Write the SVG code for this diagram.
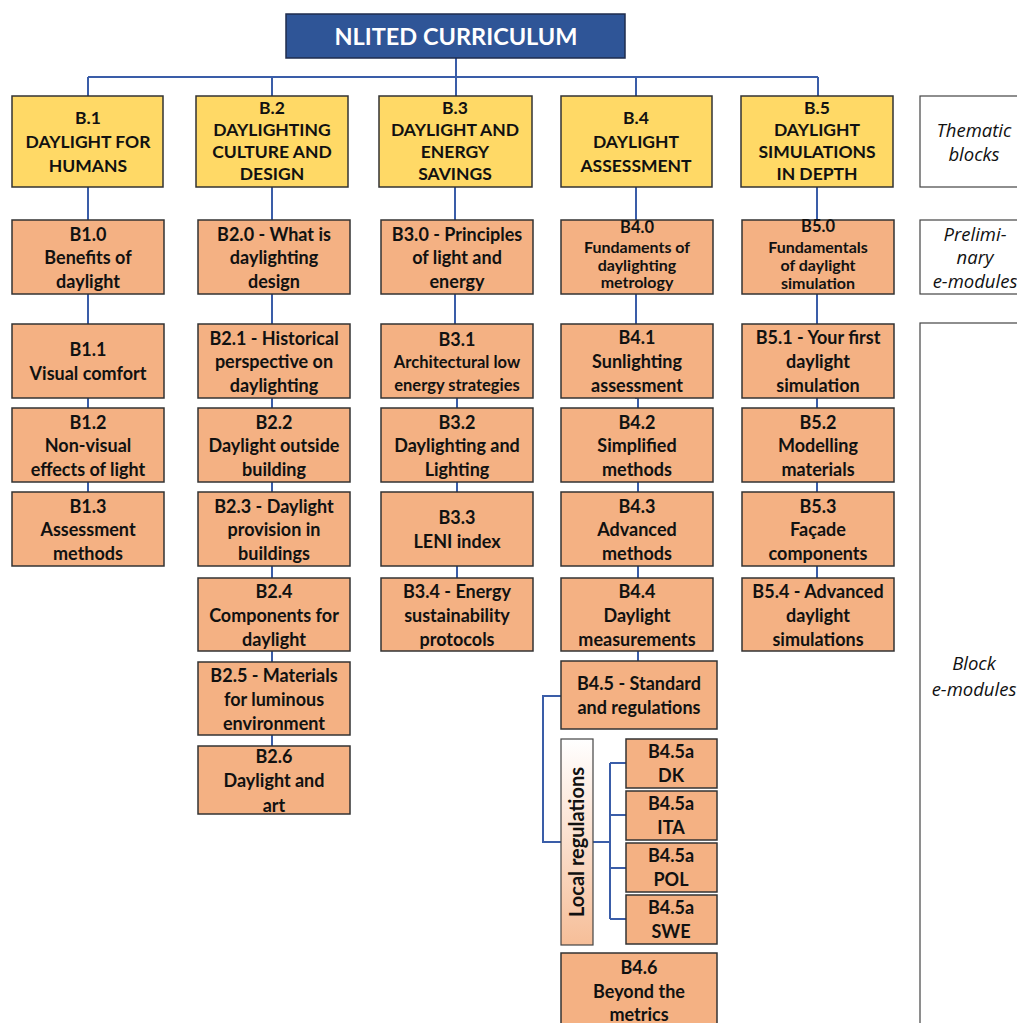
<svg xmlns="http://www.w3.org/2000/svg" width="1017" height="1023" viewBox="0 0 1017 1023">
<style>
.bg{fill:#ffffff}
.title{fill:#2F5597;stroke:#1f2d4d;stroke-width:1.5}
.tt{fill:#ffffff;font-family:Lato,"Liberation Sans",sans-serif;font-weight:bold;font-size:23.5px;text-anchor:middle}
.yb{fill:#FFD966;stroke:#333333;stroke-width:1.5}
.pb{fill:#F4B183;stroke:#333333;stroke-width:1.5}
.lb{fill:#ffffff;stroke:#444444;stroke-width:1.2}
.yt{fill:#111111;font-family:Lato,"Liberation Sans",sans-serif;font-weight:bold;font-size:17.5px;text-anchor:middle}
.pt{fill:#111111;font-family:Lato,"Liberation Sans",sans-serif;font-weight:bold;font-size:18px;text-anchor:middle}
.ph{fill:#111111;font-family:Lato,"Liberation Sans",sans-serif;font-weight:bold;font-size:16.5px;text-anchor:middle}
.ps{fill:#111111;font-family:Lato,"Liberation Sans",sans-serif;font-weight:bold;font-size:16.5px;text-anchor:middle}
.pss{fill:#111111;font-family:Lato,"Liberation Sans",sans-serif;font-weight:bold;font-size:16px;text-anchor:middle}
.lr{fill:#111111;font-family:Lato,"Liberation Sans",sans-serif;font-weight:bold;font-size:20px;text-anchor:middle}
.it{fill:#111111;font-family:"Open Sans","Liberation Sans",sans-serif;font-style:italic;font-size:18.5px;text-anchor:middle}
.con{fill:none;stroke:#3A5DA8;stroke-width:2}
</style>
<defs>
<linearGradient id="lg" x1="0" y1="0" x2="0" y2="1">
<stop offset="0" stop-color="#FFFFFF"/>
<stop offset="1" stop-color="#F6BE98"/>
</linearGradient>
</defs>
<rect class="bg" x="0" y="0" width="1017" height="1023"/>

<g id="connectors">
<path class="con" d="M456 58 V77 M88 77 H818 M88 77 V96 M272 77 V96 M456 77 V96 M636 77 V96 M818 77 V96"/>
<path class="con" d="M88 187 V492"/>
<path class="con" d="M272 187 V746"/>
<path class="con" d="M455 187 V324 M457 398 V578"/>
<path class="con" d="M636 187 V398 H638 V408 M638 482 V661"/>
<path class="con" d="M817 187 V578"/>
<path class="con" d="M561 696 H543 V842 H561 M593 842 H610 M610 763 V919 M610 763 H626 M610 815 H626 M610 868 H626 M610 919 H626"/>
</g>

<g id="title"><rect class="title" x="286" y="14" width="339" height="44"/><text class="tt" x="456" y="45">NLITED CURRICULUM</text></g>

<g id="B1"><rect class="yb" x="12" y="96" width="151" height="91"/><text class="yt" x="88" y="124">B.1</text><text class="yt" x="88" y="148">DAYLIGHT FOR</text><text class="yt" x="88" y="172">HUMANS</text></g>
<g id="B2"><rect class="yb" x="196" y="96" width="152" height="91"/><text class="yt" x="272" y="114">B.2</text><text class="yt" x="272" y="136">DAYLIGHTING</text><text class="yt" x="272" y="158">CULTURE AND</text><text class="yt" x="272" y="180">DESIGN</text></g>
<g id="B3"><rect class="yb" x="379" y="96" width="153" height="91"/><text class="yt" x="455" y="114">B.3</text><text class="yt" x="455" y="136">DAYLIGHT AND</text><text class="yt" x="455" y="158">ENERGY</text><text class="yt" x="455" y="180">SAVINGS</text></g>
<g id="B4"><rect class="yb" x="561" y="96" width="151" height="91"/><text class="yt" x="636" y="124">B.4</text><text class="yt" x="636" y="148">DAYLIGHT</text><text class="yt" x="636" y="172">ASSESSMENT</text></g>
<g id="B5"><rect class="yb" x="741" y="96" width="152" height="91"/><text class="yt" x="817" y="114">B.5</text><text class="yt" x="817" y="136">DAYLIGHT</text><text class="yt" x="817" y="158">SIMULATIONS</text><text class="yt" x="817" y="180">IN DEPTH</text></g>

<g id="lab-thematic"><rect class="lb" x="920" y="96" width="110" height="91"/><text class="it" x="974" y="137">Thematic</text><text class="it" x="974" y="161">blocks</text></g>
<g id="lab-prelim"><rect class="lb" x="920" y="220" width="110" height="74"/><text class="it" x="975" y="241">Prelimi-</text><text class="it" x="975" y="264">nary</text><text class="it" x="975" y="288">e-modules</text></g>
<g id="lab-block"><rect class="lb" x="920" y="323" width="110" height="710"/><text class="it" x="974" y="670">Block</text><text class="it" x="974" y="696">e-modules</text></g>

<g id="B1.0"><rect class="pb" x="12" y="220" width="152" height="74"/><text class="pt" x="88" y="241">B1.0</text><text class="pt" x="88" y="264">Benefits of</text><text class="pt" x="88" y="288">daylight</text></g>
<g id="B1.1"><rect class="pb" x="12" y="324" width="152" height="74"/><text class="pt" x="88" y="356">B1.1</text><text class="pt" x="88" y="380">Visual comfort</text></g>
<g id="B1.2"><rect class="pb" x="12" y="408" width="152" height="74"/><text class="pt" x="88" y="429">B1.2</text><text class="pt" x="88" y="452">Non-visual</text><text class="pt" x="88" y="476">effects of light</text></g>
<g id="B1.3"><rect class="pb" x="12" y="492" width="152" height="74"/><text class="pt" x="88" y="513">B1.3</text><text class="pt" x="88" y="536">Assessment</text><text class="pt" x="88" y="560">methods</text></g>

<g id="B2.0"><rect class="pb" x="198" y="220" width="152" height="74"/><text class="pt" x="274" y="241">B2.0 - What is</text><text class="pt" x="274" y="264">daylighting</text><text class="pt" x="274" y="288">design</text></g>
<g id="B2.1"><rect class="pb" x="198" y="324" width="152" height="74"/><text class="pt" x="274" y="345">B2.1 - Historical</text><text class="pt" x="274" y="368">perspective on</text><text class="pt" x="274" y="392">daylighting</text></g>
<g id="B2.2"><rect class="pb" x="198" y="408" width="152" height="74"/><text class="pt" x="274" y="429">B2.2</text><text class="pt" x="274" y="452">Daylight outside</text><text class="pt" x="274" y="476">building</text></g>
<g id="B2.3"><rect class="pb" x="198" y="492" width="152" height="74"/><text class="pt" x="274" y="513">B2.3 - Daylight</text><text class="pt" x="274" y="536">provision in</text><text class="pt" x="274" y="560">buildings</text></g>
<g id="B2.4"><rect class="pb" x="198" y="578" width="152" height="73"/><text class="pt" x="274" y="598">B2.4</text><text class="pt" x="274" y="622">Components for</text><text class="pt" x="274" y="646">daylight</text></g>
<g id="B2.5"><rect class="pb" x="198" y="662" width="152" height="73"/><text class="pt" x="274" y="682">B2.5 - Materials</text><text class="pt" x="274" y="706">for luminous</text><text class="pt" x="274" y="730">environment</text></g>
<g id="B2.6"><rect class="pb" x="198" y="746" width="152" height="68"/><text class="pt" x="274" y="763">B2.6</text><text class="pt" x="274" y="787">Daylight and</text><text class="pt" x="274" y="812">art</text></g>

<g id="B3.0"><rect class="pb" x="381" y="220" width="152" height="74"/><text class="pt" x="457" y="241">B3.0 - Principles</text><text class="pt" x="457" y="264">of light and</text><text class="pt" x="457" y="288">energy</text></g>
<g id="B3.1"><rect class="pb" x="381" y="324" width="152" height="74"/><text class="pt" x="457" y="346">B3.1</text><text class="ps" x="457" y="368">Architectural low</text><text class="ps" x="457" y="391">energy strategies</text></g>
<g id="B3.2"><rect class="pb" x="381" y="408" width="152" height="74"/><text class="pt" x="457" y="429">B3.2</text><text class="pt" x="457" y="452">Daylighting and</text><text class="pt" x="457" y="476">Lighting</text></g>
<g id="B3.3"><rect class="pb" x="381" y="492" width="152" height="74"/><text class="pt" x="457" y="524">B3.3</text><text class="pt" x="457" y="548">LENI index</text></g>
<g id="B3.4"><rect class="pb" x="381" y="578" width="152" height="73"/><text class="pt" x="457" y="598">B3.4 - Energy</text><text class="pt" x="457" y="622">sustainability</text><text class="pt" x="457" y="646">protocols</text></g>

<g id="B4.0"><rect class="pb" x="561" y="220" width="152" height="74"/><text class="ph" x="637" y="233">B4.0</text><text class="pss" x="637" y="253">Fundaments of</text><text class="pss" x="637" y="270.5">daylighting</text><text class="pss" x="637" y="288">metrology</text></g>
<g id="B4.1"><rect class="pb" x="561" y="324" width="152" height="74"/><text class="pt" x="637" y="344">B4.1</text><text class="pt" x="637" y="368">Sunlighting</text><text class="pt" x="637" y="392">assessment</text></g>
<g id="B4.2"><rect class="pb" x="561" y="408" width="152" height="74"/><text class="pt" x="637" y="429">B4.2</text><text class="pt" x="637" y="452">Simplified</text><text class="pt" x="637" y="476">methods</text></g>
<g id="B4.3"><rect class="pb" x="561" y="492" width="152" height="74"/><text class="pt" x="637" y="513">B4.3</text><text class="pt" x="637" y="536">Advanced</text><text class="pt" x="637" y="560">methods</text></g>
<g id="B4.4"><rect class="pb" x="561" y="578" width="152" height="73"/><text class="pt" x="637" y="598">B4.4</text><text class="pt" x="637" y="622">Daylight</text><text class="pt" x="637" y="646">measurements</text></g>
<g id="B4.5"><rect class="pb" x="561" y="661" width="156" height="68"/><text class="pt" x="639" y="690">B4.5 - Standard</text><text class="pt" x="639" y="714">and regulations</text></g>
<g id="local-regulations"><rect x="561" y="739" width="32" height="206" fill="url(#lg)" stroke="#444444" stroke-width="1.2"/><text class="lr" transform="translate(584,842) rotate(-90)" x="0" y="0">Local regulations</text></g>
<g id="B4.5a-DK"><rect class="pb" x="626" y="739" width="91" height="49"/><text class="pt" x="671" y="758">B4.5a</text><text class="pt" x="671" y="782">DK</text></g>
<g id="B4.5a-ITA"><rect class="pb" x="626" y="791" width="91" height="49"/><text class="pt" x="671" y="810">B4.5a</text><text class="pt" x="671" y="834">ITA</text></g>
<g id="B4.5a-POL"><rect class="pb" x="626" y="843" width="91" height="49"/><text class="pt" x="671" y="862">B4.5a</text><text class="pt" x="671" y="886">POL</text></g>
<g id="B4.5a-SWE"><rect class="pb" x="626" y="895" width="91" height="49"/><text class="pt" x="671" y="914">B4.5a</text><text class="pt" x="671" y="938">SWE</text></g>
<g id="B4.6"><rect class="pb" x="561" y="953" width="156" height="80"/><text class="pt" x="639" y="974">B4.6</text><text class="pt" x="639" y="998">Beyond the</text><text class="pt" x="639" y="1021">metrics</text></g>

<g id="B5.0"><rect class="pb" x="742" y="220" width="152" height="74"/><text class="ph" x="818" y="232">B5.0</text><text class="pss" x="818" y="252.5">Fundamentals</text><text class="pss" x="818" y="270.5">of daylight</text><text class="pss" x="818" y="288.5">simulation</text></g>
<g id="B5.1"><rect class="pb" x="742" y="324" width="152" height="74"/><text class="pt" x="818" y="344">B5.1 - Your first</text><text class="pt" x="818" y="368">daylight</text><text class="pt" x="818" y="392">simulation</text></g>
<g id="B5.2"><rect class="pb" x="742" y="408" width="152" height="74"/><text class="pt" x="818" y="429">B5.2</text><text class="pt" x="818" y="452">Modelling</text><text class="pt" x="818" y="476">materials</text></g>
<g id="B5.3"><rect class="pb" x="742" y="492" width="152" height="74"/><text class="pt" x="818" y="513">B5.3</text><text class="pt" x="818" y="536">Façade</text><text class="pt" x="818" y="560">components</text></g>
<g id="B5.4"><rect class="pb" x="742" y="578" width="152" height="73"/><text class="pt" x="818" y="598">B5.4 - Advanced</text><text class="pt" x="818" y="622">daylight</text><text class="pt" x="818" y="646">simulations</text></g>
</svg>
